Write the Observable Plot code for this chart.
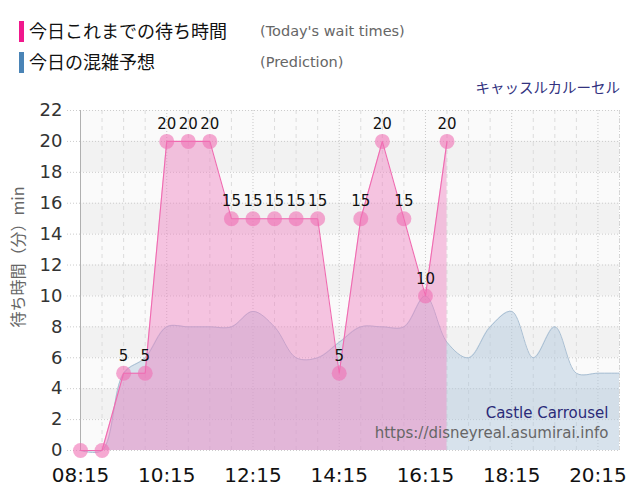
<!DOCTYPE html>
<html>
<head>
<meta charset="utf-8">
<script src="https://cdn.jsdelivr.net/npm/d3@7"></script>
<script src="https://cdn.jsdelivr.net/npm/@observablehq/plot@0.6"></script>
<style>
  body { margin: 0; background: white; }
  #wrap { position: relative; width: 640px; height: 500px; font-family: "DejaVu Sans", "Noto Sans CJK JP", sans-serif; }
  .bar { position: absolute; left: 19px; width: 5px; height: 21px; }
  .lj { position: absolute; left: 29px; font-size: 18px; color: #111; font-family: "Noto Sans CJK JP", sans-serif; line-height: 1; }
  .le { position: absolute; left: 260px; font-size: 14.5px; color: #666; line-height: 1; }
  #title { position: absolute; right: 20px; top: 80px; font-size: 14.5px; color: #33337f; font-family: "Noto Sans CJK JP", sans-serif; line-height: 1; }
  #ylab { position: absolute; left: 17px; top: 257px; transform: translate(-50%, -50%) rotate(-90deg); white-space: nowrap; font-size: 16px; color: #666; font-family: "Noto Sans CJK JP", sans-serif; }
</style>
</head>
<body>
<div id="wrap">
  <div id="chart"></div>
  <div class="bar" style="top:21px;background:#f0188c"></div>
  <div class="lj" style="top:21px">今日これまでの待ち時間</div>
  <div class="le" style="top:24px">(Today's wait times)</div>
  <div class="bar" style="top:52px;background:#4a84b6"></div>
  <div class="lj" style="top:52px">今日の混雑予想</div>
  <div class="le" style="top:55px">(Prediction)</div>
  <div id="title">キャッスルカルーセル</div>
  <div id="ylab">待ち時間（分）min</div>
</div>
<script>
const waitTimes = ["08:15","08:45","09:15","09:45","10:15","10:45","11:15","11:45","12:15","12:45","13:15","13:45","14:15","14:45","15:15","15:45","16:15","16:45"];
const waitValues = [0,0,5,5,20,20,20,15,15,15,15,15,5,15,20,15,10,20];
const predTimes = ["08:15","08:45","09:15","09:45","10:15","10:45","11:15","11:45","12:15","12:45","13:15","13:45","14:15","14:45","15:15","15:45","16:15","16:45","17:15","17:45","18:15","18:45","19:15","19:45","20:15","20:45"];
const predValues = [0,0,5,6,8,8,8,8,9,8,6,6,7,8,8,8,10,7,6,8,9,6,8,5,5,5];
const xTickLabels = ["08:15","10:15","12:15","14:15","16:15","18:15","20:15"];
const yTicks = [0,2,4,6,8,10,12,14,16,18,20,22];
const bands = [[2,4],[6,8],[10,12],[14,16],[18,20]];
const attraction = "Castle Carrousel";
const site = "https://disneyreal.asumirai.info";

const parse = d3.timeParse("%H:%M");
const wait = waitTimes.map((t, i) => ({t: parse(t), v: waitValues[i]}));
const pred = predTimes.map((t, i) => ({t: parse(t), v: predValues[i]}));
const xStart = parse("08:15"), xEnd = parse("20:45");
const halfHours = predTimes.map(parse);
const majors = xTickLabels.map(parse);
const minors = halfHours.filter(d => !xTickLabels.includes(d3.timeFormat("%H:%M")(d)));

const chart = Plot.plot({
  width: 640, height: 500,
  marginTop: 110, marginBottom: 50, marginLeft: 80, marginRight: 21,
  style: {fontFamily: "DejaVu Sans, Noto Sans CJK JP, sans-serif", background: "transparent", overflow: "visible"},
  x: {type: "time", domain: [xStart, xEnd]},
  y: {domain: [0, 22]},
  marks: [
    Plot.rect([0], {x1: xStart, x2: xEnd, y1: 0, y2: 22, fill: "#fafafa"}),
    Plot.rect(bands, {x1: xStart, x2: xEnd, y1: d => d[0], y2: d => d[1], fill: "#f2f2f2"}),
    Plot.ruleX(minors, {stroke: "#dcdcdc", strokeDasharray: "4,4"}),
    Plot.ruleX(majors, {stroke: "#c8c8c8", strokeDasharray: "1,2"}),
    Plot.ruleX([xEnd], {stroke: "#d0d0d0", strokeDasharray: "1,2"}),
    Plot.ruleY(yTicks, {x1: xStart, x2: xEnd, stroke: "#cccccc", strokeDasharray: "1,2"}),
    Plot.axisY({ticks: yTicks, tickSize: 15, tickPadding: 3, fontSize: 18, stroke: "#cccccc", strokeDasharray: "1,2", color: "#333", label: null}),
    Plot.axisX({ticks: majors, tickFormat: d3.timeFormat("%H:%M"), tickSize: 0, tickPadding: 17, fontSize: 20, color: "#111", label: null}),
    Plot.ruleX([xStart], {stroke: "#b0b0b0"}),
    Plot.areaY(pred, {x: "t", y: "v", curve: "catmull-rom", fill: "#b4cadd", fillOpacity: 0.5}),
    Plot.lineY(pred, {x: "t", y: "v", curve: "catmull-rom", stroke: "#a9bfd3", strokeWidth: 1}),
    Plot.areaY(wait, {x: "t", y: "v", fill: "#f080c0", fillOpacity: 0.45}),
    Plot.lineY(wait, {x: "t", y: "v", stroke: "#f06ab0", strokeWidth: 1.1}),
    Plot.dot(wait, {x: "t", y: "v", r: 7.5, fill: "#f070b4", fillOpacity: 0.6, stroke: "none"}),
    Plot.text(wait.filter(d => d.v > 0), {x: "t", y: "v", text: d => String(d.v), dy: -17, fontSize: 15, fill: "#111"}),
    Plot.text([attraction], {frameAnchor: "bottom-right", dx: -11, dy: -33, fontSize: 15, fill: "#2b2b78", textAnchor: "end"}),
    Plot.text([site], {frameAnchor: "bottom-right", dx: -11, dy: -13, fontSize: 15, fill: "#666", textAnchor: "end"})
  ]
});
document.getElementById("chart").appendChild(chart);
</script>
</body>
</html>
